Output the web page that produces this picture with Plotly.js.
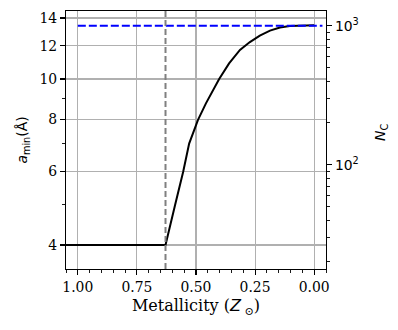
<!DOCTYPE html>
<html><head>
<meta charset="utf-8">
<script src="https://cdn.plot.ly/plotly-3.0.1.min.js"></script>
<style>body{margin:0;background:#fff}</style>
</head><body>
<div id="chart" style="width:398px;height:330px"></div>
<script>
// Data
const metallicity = [1.05, 0.629, 0.588, 0.554, 0.529, 0.492, 0.458, 0.431, 0.402, 0.360, 0.314, 0.272, 0.230, 0.187, 0.145, 0.103, 0.061, 0.0];
const aMin        = [4, 4, 5.0, 6.0, 7.0, 7.97, 8.74, 9.36, 10.0, 10.9, 11.74, 12.26, 12.70, 13.06, 13.29, 13.40, 13.43, 13.45];
const capZ = [1.0, -0.035];
const capN = [1000, 1000];
const thresholdZ = [0.629];
const xTickVals = [1, 0.75, 0.5, 0.25, 0];
const xTickText = ['1.00', '0.75', '0.50', '0.25', '0.00'];
const aTickVals = [4, 6, 8, 10, 12, 14];
const aTickText = ['4', '6', '8', '10', '12', '14'];
const aMinorVals = [5, 7, 9];
const nTickVals = [100, 1000];
const nTickText = ['10<sup>2</sup>', '10<sup>3</sup>'];
const nMinorVals = [20, 30, 40, 50, 60, 70, 80, 90, 200, 300, 400, 500, 600, 700, 800, 900];

const serif = 'DejaVu Serif';
const sans = 'DejaVu Sans';
const fs = 13.9;

const traces = [
  {x: metallicity, y: aMin, type: 'scatter', mode: 'lines', line: {color: '#000000', width: 2}, xaxis: 'x', yaxis: 'y', hoverinfo: 'skip', showlegend: false},
  {x: capZ, y: capN, type: 'scatter', mode: 'lines', line: {color: '#0000ff', width: 2, dash: '8px,3px'}, xaxis: 'x', yaxis: 'y2', hoverinfo: 'skip', showlegend: false}
];

const shapes = thresholdZ.map(z => ({
  type: 'line', xref: 'x', yref: 'paper', x0: z, x1: z, y0: 0, y1: 1,
  line: {color: '#808080', width: 2, dash: '6px,3px'}, layer: 'above'
}));

const annotations = [{
  text: '<i>N</i><sub>C</sub>', xref: 'paper', yref: 'paper', x: 1, y: 0.5,
  xanchor: 'center', yanchor: 'middle', xshift: 55, yshift: 7, textangle: -90,
  showarrow: false, font: {family: sans, size: fs, color: '#000'}
}];

const layout = {
  width: 398, height: 330,
  margin: {l: 66, r: 72, t: 11, b: 61, pad: 0},
  paper_bgcolor: '#ffffff', plot_bgcolor: '#ffffff',
  font: {family: serif, size: fs, color: '#000000'},
  showlegend: false,
  shapes: shapes,
  annotations: annotations,
  xaxis: {
    range: [1.05, -0.05], tickmode: 'array', tickvals: xTickVals, ticktext: xTickText,
    ticks: 'outside', ticklen: 4.9, tickwidth: 1.1, tickcolor: '#000',
    showline: true, linecolor: '#000', linewidth: 1.2, mirror: true,
    showgrid: true, gridcolor: '#b0b0b0', gridwidth: 1.1, zeroline: false,
    minor: {dtick: 0.05, tick0: 0, ticks: 'outside', ticklen: 2.8, tickwidth: 0.9, tickcolor: '#000', showgrid: false},
    tickfont: {family: serif, size: fs, color: '#000'},
    title: {text: 'Metallicity (<span style="font-family:DejaVu Sans"><i>Z</i></span><sub> ⊙</sub>)', font: {family: serif, size: 16, color: '#000'}, standoff: 6}
  },
  yaxis: {
    type: 'log', range: [0.5445, 1.1629], tickmode: 'array', tickvals: aTickVals, ticktext: aTickText,
    ticks: 'outside', ticklen: 4.9, tickwidth: 1.1, tickcolor: '#000',
    showline: true, linecolor: '#000', linewidth: 1.2,
    showgrid: true, gridcolor: '#b0b0b0', gridwidth: 1.1, zeroline: false,
    minor: {tickmode: 'array', tickvals: aMinorVals, ticks: 'outside', ticklen: 2.8, tickwidth: 0.9, tickcolor: '#000', showgrid: false},
    tickfont: {family: serif, size: fs, color: '#000'},
    title: {text: '<i>a</i><sub>min</sub>(Å)', font: {family: sans, size: fs, color: '#000'}, standoff: 8}
  },
  yaxis2: {
    type: 'log', range: [1.2504, 3.1056], overlaying: 'y', side: 'right', anchor: 'x',
    tickmode: 'array', tickvals: nTickVals, ticktext: nTickText,
    ticks: 'outside', ticklen: 4.9, tickwidth: 1.1, tickcolor: '#000',
    showline: true, linecolor: '#000', linewidth: 1.2,
    showgrid: false, zeroline: false,
    minor: {tickmode: 'array', tickvals: nMinorVals, ticks: 'outside', ticklen: 2.8, tickwidth: 0.9, tickcolor: '#000', showgrid: false},
    tickfont: {family: sans, size: fs, color: '#000'}
  }
};

Plotly.newPlot('chart', traces, layout, {displayModeBar: false, staticPlot: true});
</script>
</body></html>
